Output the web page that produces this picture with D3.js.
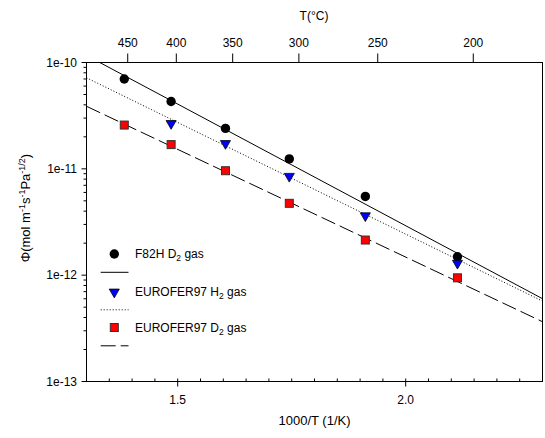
<!DOCTYPE html>
<html><head><meta charset="utf-8">
<script src="https://cdn.jsdelivr.net/npm/d3@7"></script>
<style>body{margin:0;background:#fff}svg{display:block;font-family:"Liberation Sans",Arial,sans-serif}</style>
</head><body><svg id="c" width="545" height="438"></svg>
<script>
// ---- data ----
const tempsC = [450, 400, 350, 300, 250, 200];
const f82hD2 = [7.0e-11, 4.3e-11, 2.4e-11, 1.24e-11, 5.5e-12, 1.49e-12];
const euroH2 = [null, 2.7e-11, 1.75e-11, 8.6e-12, 3.66e-12, 1.31e-12];
const euroD2 = [2.58e-11, 1.69e-11, 9.6e-12, 4.74e-12, 2.14e-12, 9.44e-13];
// fitted Arrhenius lines: log10(phi) = intercept + slope * (1000/T)
const fitIntercept = [-6.959, -7.414, -7.778];
const fitSlope = [-2.288, -2.10, -2.026];
const seriesNames = ["F82H D", "EUROFER97 H", "EUROFER97 D"];
const xTicks = [1.5, 2.0];
const yTicks = [1e-13, 1e-12, 1e-11, 1e-10];
const topTicks = [450, 400, 350, 300, 250, 200];

const svg = d3.select("#c");
const x = d3.scaleLinear().domain([1.3, 2.3]).range([86.5, 542.5]);
const y = d3.scaleLog().domain([1e-13, 1e-10]).range([381.5, 62.5]);
const invT = tempsC.map(t => 1000 / (t + 273.15));
const xTop = d3.scaleLinear().domain([1000 / (450 + 273.15), 1000 / (200 + 273.15)]).range([x(1.3904), x(2.1482)]);

const [x0, x1] = x.range(), [yb, yt] = y.range();

svg.append("defs").append("clipPath").attr("id", "clip")
  .append("rect").attr("x", x0).attr("y", yt).attr("width", x1 - x0).attr("height", yb - yt);

// frame
svg.append("rect").attr("x", x0).attr("y", yt).attr("width", x1 - x0).attr("height", yb - yt)
  .attr("fill", "none").attr("stroke", "#000").attr("stroke-width", 1);

// bottom axis: minor ticks inside, major outside
const minorX = d3.range(1.3, 2.3001, 0.05).map(v => +v.toFixed(2));
svg.append("g").selectAll("line").data(minorX).join("line")
  .attr("x1", d => x(d)).attr("x2", d => x(d)).attr("y1", yb).attr("y2", yb - 3)
  .attr("stroke", "#000");
svg.append("g").selectAll("line").data(xTicks).join("line")
  .attr("x1", d => x(d)).attr("x2", d => x(d)).attr("y1", yb).attr("y2", yb + 5)
  .attr("stroke", "#000");
svg.append("g").selectAll("text").data(xTicks).join("text")
  .attr("x", d => x(d)).attr("y", 404).attr("text-anchor", "middle")
  .attr("font-size", 12).text(d => d.toFixed(1));
svg.append("text").attr("x", (x0 + x1) / 2).attr("y", 425).attr("text-anchor", "middle")
  .attr("font-size", 13).text("1000/T (1/K)");

// left axis
const minorY = [];
[-13, -12, -11].forEach(e => { for (let k = 2; k <= 9; k++) minorY.push(k * Math.pow(10, e)); });
svg.append("g").selectAll("line").data(minorY).join("line")
  .attr("x1", x0).attr("x2", x0 - 3).attr("y1", d => y(d)).attr("y2", d => y(d)).attr("stroke", "#000");
svg.append("g").selectAll("line").data(yTicks).join("line")
  .attr("x1", x0).attr("x2", x0 - 5).attr("y1", d => y(d)).attr("y2", d => y(d)).attr("stroke", "#000");
svg.append("g").selectAll("text").data(yTicks).join("text")
  .attr("x", 77).attr("y", d => y(d) + 4).attr("text-anchor", "end").attr("font-size", 12)
  .text(d => "1e" + Math.round(Math.log10(d)));

const yt_ = svg.append("text").attr("transform", `translate(30,208) rotate(-90)`)
  .attr("text-anchor", "middle").attr("font-size", 13);
yt_.append("tspan").text("Φ(mol m");
yt_.append("tspan").attr("font-size", 9).attr("dy", -5).text("-1");
yt_.append("tspan").attr("dy", 5).text("s");
yt_.append("tspan").attr("font-size", 9).attr("dy", -5).text("-1");
yt_.append("tspan").attr("dy", 5).text("Pa");
yt_.append("tspan").attr("font-size", 9).attr("dy", -5).text("-1/2");
yt_.append("tspan").attr("dy", 5).text(")");

// top axis
svg.append("g").selectAll("line").data(topTicks).join("line")
  .attr("x1", d => xTop(1000 / (d + 273.15))).attr("x2", d => xTop(1000 / (d + 273.15)))
  .attr("y1", yt).attr("y2", yt - 9).attr("stroke", "#000");
svg.append("g").selectAll("text").data(topTicks).join("text")
  .attr("x", d => xTop(1000 / (d + 273.15))).attr("y", 47).attr("text-anchor", "middle")
  .attr("font-size", 12).text(d => d);
svg.append("text").attr("x", 314).attr("y", 20).attr("text-anchor", "middle")
  .attr("font-size", 12).text("T(°C)");

// fit lines
const dashes = [null, "1,2", "15,5"];
const lineG = svg.append("g").attr("clip-path", "url(#clip)");
fitIntercept.forEach((a, i) => {
  const pts = x.domain().map(v => [v, Math.pow(10, a + fitSlope[i] * v)]);
  lineG.append("path").datum(pts)
    .attr("d", d3.line().x(d => x(d[0])).y(d => y(d[1])))
    .attr("fill", "none").attr("stroke", "#000").attr("stroke-width", 1)
    .attr("stroke-dasharray", dashes[i]);
});

// markers
const tri = d3.symbol().type(d3.symbolTriangle).size(44);
function drawMarker(g, kind, cx, cy) {
  if (kind === 0) g.append("circle").attr("cx", cx).attr("cy", cy).attr("r", 4.7).attr("fill", "#000");
  else if (kind === 1) g.append("path").attr("d", tri).attr("transform", `translate(${cx},${cy + 0.5}) rotate(180)`)
    .attr("fill", "#0000ff").attr("stroke", "#000").attr("stroke-width", 0.8);
  else g.append("rect").attr("x", cx - 4).attr("y", cy - 4).attr("width", 8).attr("height", 8)
    .attr("fill", "#ff0000").attr("stroke", "#333").attr("stroke-width", 1);
}
const mg = svg.append("g");
[f82hD2, euroH2, euroD2].forEach((arr, k) => {
  arr.forEach((v, i) => { if (v != null) drawMarker(mg, k, x(invT[i]), y(v)); });
});

// legend
const legY = [254, 291.5, 327.5];
const lg = svg.append("g");
seriesNames.forEach((name, k) => {
  drawMarker(lg, k, 114.3, legY[k]);
  const t = lg.append("text").attr("x", 135).attr("y", legY[k] + 4).attr("font-size", 12);
  t.append("tspan").text(name);
  t.append("tspan").attr("font-size", 8.5).attr("dy", 3).text("2");
  t.append("tspan").attr("dy", -3).text(" gas");
  lg.append("line").attr("x1", 100.7).attr("x2", 128.5).attr("y1", legY[k] + 18.3).attr("y2", legY[k] + 18.3)
    .attr("stroke", "#000").attr("stroke-dasharray", dashes[k]);
});
</script></body></html>
